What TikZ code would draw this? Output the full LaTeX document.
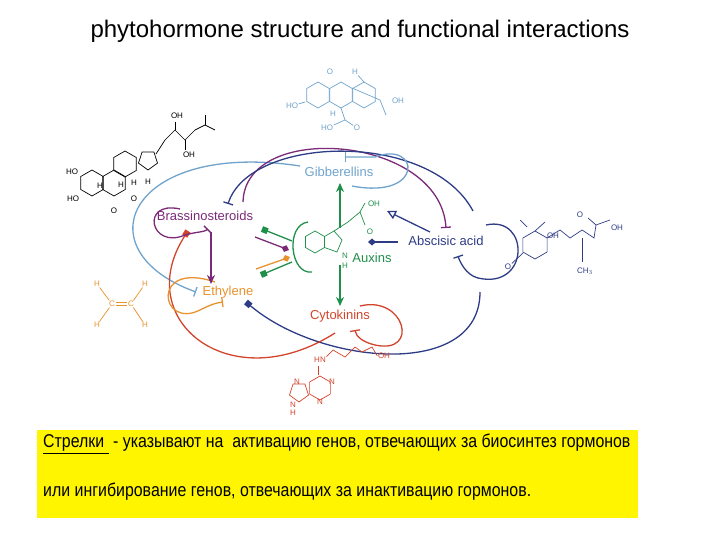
\documentclass[tikz,border=0pt]{standalone}
\usepackage{fontspec}
\setmainfont{Liberation Sans}
\usetikzlibrary{arrows.meta}
\definecolor{gib}{HTML}{6FA3CC}
\definecolor{bra}{HTML}{7A2A78}
\definecolor{aba}{HTML}{2E3C86}
\definecolor{aux}{HTML}{1F8F4A}
\definecolor{eth}{HTML}{E8922E}
\definecolor{cyt}{HTML}{D2452C}
\definecolor{yel}{HTML}{FFF500}
\tikzset{
 lab/.style={font=\fontsize{13}{13}\selectfont,inner sep=1pt},
 inh/.style={line width=1.3pt,-{Bar[width=10pt]}},
 act/.style={line width=1.5pt,-{Stealth[length=9pt,width=8pt]}},
 sq/.style={line width=1.3pt,-{Square[length=6pt,width=6pt]}},
 dia/.style={line width=1.3pt,-{Diamond[length=8pt,width=7pt]}},
 tri/.style={line width=1.3pt,-{Triangle[open,length=9pt,width=9pt]}},
 bond/.style={line width=0.7pt},
 atom/.style={font=\fontsize{8}{8}\selectfont,inner sep=0.5pt},
 hex/.pic={\draw[bond] (30:1)--(90:1)--(150:1)--(210:1)--(270:1)--(330:1)--cycle;},
 pent/.pic={\draw[bond] (90:1)--(162:1)--(234:1)--(306:1)--(18:1)--cycle;},
}
\begin{document}
\begin{tikzpicture}[x=1pt,y=-1pt]
\useasboundingbox (0,0) rectangle (720,540);
\node (title) at (360,31) {\fontsize{24}{24}\selectfont phytohormone structure and functional interactions};
% yellow box
\node[fill=yel,minimum width=601pt,minimum height=88pt,inner sep=0] (box) at (337.5,474) {};
\node[anchor=west,inner sep=0] (l1) at (43,444) {\scalebox{0.86}[1]{\fontsize{18.5}{18}\selectfont\underline{Стрелки } - указывают на \ активацию генов, отвечающих за биосинтез гормонов}};
\node[anchor=west,inner sep=0] (l2) at (43,492) {\scalebox{0.86}[1]{\fontsize{18.5}{18}\selectfont или ингибирование генов, отвечающих за инактивацию гормонов.}};
% labels
\node[lab,text=gib] (G) at (339,172) {Gibberellins};
\node[lab,text=bra] (B) at (205,216) {Brassinosteroids};
\node[lab,text=aba] (A) at (446,241) {Abscisic acid};
\node[lab,text=aux] (X) at (372,258) {Auxins};
\node[lab,text=eth] (E) at (228,292) {Ethylene};
\node[lab,text=cyt] (C) at (340,316) {Cytokinins};
% coordinates
\coordinate (gb) at (300,166);
\coordinate (eb) at (196,292);
\coordinate (bt) at (243,202); \coordinate (ab) at (446,228);
\coordinate (at) at (473,211); \coordinate (bb) at (228,204);
\coordinate (ar) at (480,292); \coordinate (es) at (246,302);
\coordinate (cl) at (335,333); \coordinate (bs) at (188,231);
% big arcs
\draw[inh,gib] (gb) .. controls (130,140) and (80,250) .. (eb);
\draw[inh,bra] (bt) .. controls (245,120) and (440,135) .. (ab);
\draw[inh,aba] (at) .. controls (430,130) and (250,135) .. (bb);
\draw[sq,aba] (ar) .. controls (480,380) and (320,365) .. (es);
\draw[sq,cyt] (cl) .. controls (230,400) and (130,320) .. (bs);
% self loops
\draw[inh,gib] (352,186) .. controls (425,200) and (420,140) .. (375,157) -- (345,157);
\draw[inh,bra] (180,209) .. controls (140,200) and (150,250) .. (185,235) .. controls (195,232) and (205,232) .. (208,229);
\draw[inh,aba] (486,225) .. controls (530,215) and (530,290) .. (478,278) .. controls (466,275) and (460,262) .. (458,256);
\draw[inh,eth] (215,282) .. controls (150,260) and (160,330) .. (200,310) .. controls (210,305) and (215,303) .. (223,302);
\draw[inh,cyt] (360,306) .. controls (405,295) and (420,355) .. (375,345) .. controls (362,342) and (356,336) .. (355,330);
\draw[aux,line width=1.3pt] (308,222) .. controls (285,225) and (290,275) .. (312,272);
% arrows
\draw[act,bra] (211,232) -- (211,284);
\draw[act,aux] (340,228) -- (340,183);
\draw[act,aux] (340,265) -- (340,306);
\draw[tri,aba] (430,232) -- (387,211);
\draw[dia,aba] (398,242) -- (368,242);
\draw[sq,aux] (292,241) -- (262,229);
\draw[dia,bra] (255,237) -- (289,250);
\draw[dia,eth] (256,269) -- (290,257);
\draw[sq,aux] (292,262) -- (261,275);
% auxin structure
\begin{scope}[aux]
\pic[scale=11] at (315,242) {hex};
\draw[bond] (324.5,236.5) -- (334,231) -- (342,240) -- (337,252) -- (324.5,247.5);
\draw[bond] (334,231) -- (348,222) -- (360,212) -- (365,203);
\draw[bond] (360,212) -- (365,225);
\node[atom] (xo1) at (374,204) {OH};
\node[atom] (xo2) at (370,232) {O};
\node[atom] (xn) at (345,256) {N};
\node[atom] (xh) at (345,266) {H};
\end{scope}
% ethylene
\begin{scope}[eth]
\node[atom] (h1) at (97,284) {H}; \node[atom] (h2) at (145,284) {H};
\node[atom] (h3) at (97,325) {H}; \node[atom] (h4) at (145,325) {H};
\node[atom] (c1) at (112,304) {C}; \node[atom] (c2) at (131,304) {C};
\draw[bond] (h1)--(c1)--(h3); \draw[bond] (h2)--(c2)--(h4);
\draw[bond] ([yshift=-1.2]c1.east)--([yshift=-1.2]c2.west);
\draw[bond] ([yshift=1.2]c1.east)--([yshift=1.2]c2.west);
\end{scope}
% cytokinin
\begin{scope}[cyt]
\node[atom] (hn) at (320,360) {HN};
\node[atom] (coh) at (384,356) {OH};
\draw[bond] (hn.north east) -- (333,350) -- (345,357) -- (355,347) -- (362,352) -- (372,347) -- (coh.west);
\draw[bond] (318,366) -- (318,375);
\pic[scale=12] at (320,388) {hex};
\pic[scale=10] at (299,392) {pent};
\node[atom] (n1) at (332,382) {N}; \node[atom] (n2) at (320,402) {N};
\node[atom] (n3) at (297,382) {N}; \node[atom] (n4) at (293,405) {N};
\node[atom] (n5) at (293,413) {H};
\end{scope}
% ABA
\begin{scope}[aba]
\pic[scale=14] at (535,245) {hex};
\draw[bond] (547,238) -- (560,230) -- (570,238) -- (582,230) -- (594,238) -- (596,225) -- (610,220);
\draw[bond] (582,238) -- (582,262);
\draw[bond] (596,225) -- (588,218);
\node[atom] (aoh) at (617,228) {OH};
\node[atom] (ao) at (580,215) {O};
\node[atom] (aoh2) at (553,236) {OH};
\node[atom] (ach) at (585,271) {CH$_3$};
\node[atom] (ao2) at (508,267) {O};
\draw[bond] (523,253) -- (ao2);
\draw[bond] (527,227) -- (520,220); \draw[bond] (535,231) -- (545,222);
\end{scope}
% brassinosteroid
\begin{scope}[black]
\pic[scale=13] at (92,183) {hex};
\pic[scale=13] at (114,183) {hex};
\pic[scale=13] at (125,164) {hex};
\pic[scale=10] at (148,160) {pent};
\draw[bond] (156,154) -- (165,140) -- (175,130) -- (185,140) -- (195,130) -- (205,125) -- (215,130);
\draw[bond] (205,125) -- (205,115) ; \draw[bond] (175,130) -- (175,122);
\draw[bond] (185,140) -- (185,150);
\node[atom] (boh1) at (177,116) {OH}; \node[atom] (boh2) at (189,155) {OH};
\node[atom] (bho1) at (72,172) {HO}; \node[atom] (bho2) at (73,199) {HO};
\node[atom] (bo) at (114,211) {O}; \node[atom] (bo2) at (134,199) {O};
\node[atom] (bh1) at (134,183) {H}; \node[atom] (bh2) at (121,185) {H};
\node[atom] (bh3) at (100,186) {H}; \node[atom] (bh4) at (148,182) {H};
\end{scope}
% gibberellin
\begin{scope}[gib]
\pic[scale=13] at (318,95) {hex};
\pic[scale=13] at (341,95) {hex};
\pic[scale=13] at (364,95) {hex};
\draw[bond] (352,88) -- (380,100) -- (386,115);
\node[atom] (goh) at (398,101) {OH}; \node[atom] (gho) at (292,106) {HO};
\node[atom] (gh1) at (355,72) {H}; \node[atom] (gh2) at (333,114) {H};
\node[atom] (go1) at (330,72) {O}; \node[atom] (gho2) at (327,128) {HO};
\node[atom] (go2) at (357,128) {O};
\draw[bond] (341,108) -- (345,120) -- (go2); \draw[bond] (345,120) -- (gho2);
\draw[bond] (gho) -- (305,102); \draw[bond] (364,82) -- (gh1);
\end{scope}
\end{tikzpicture}
\end{document}
